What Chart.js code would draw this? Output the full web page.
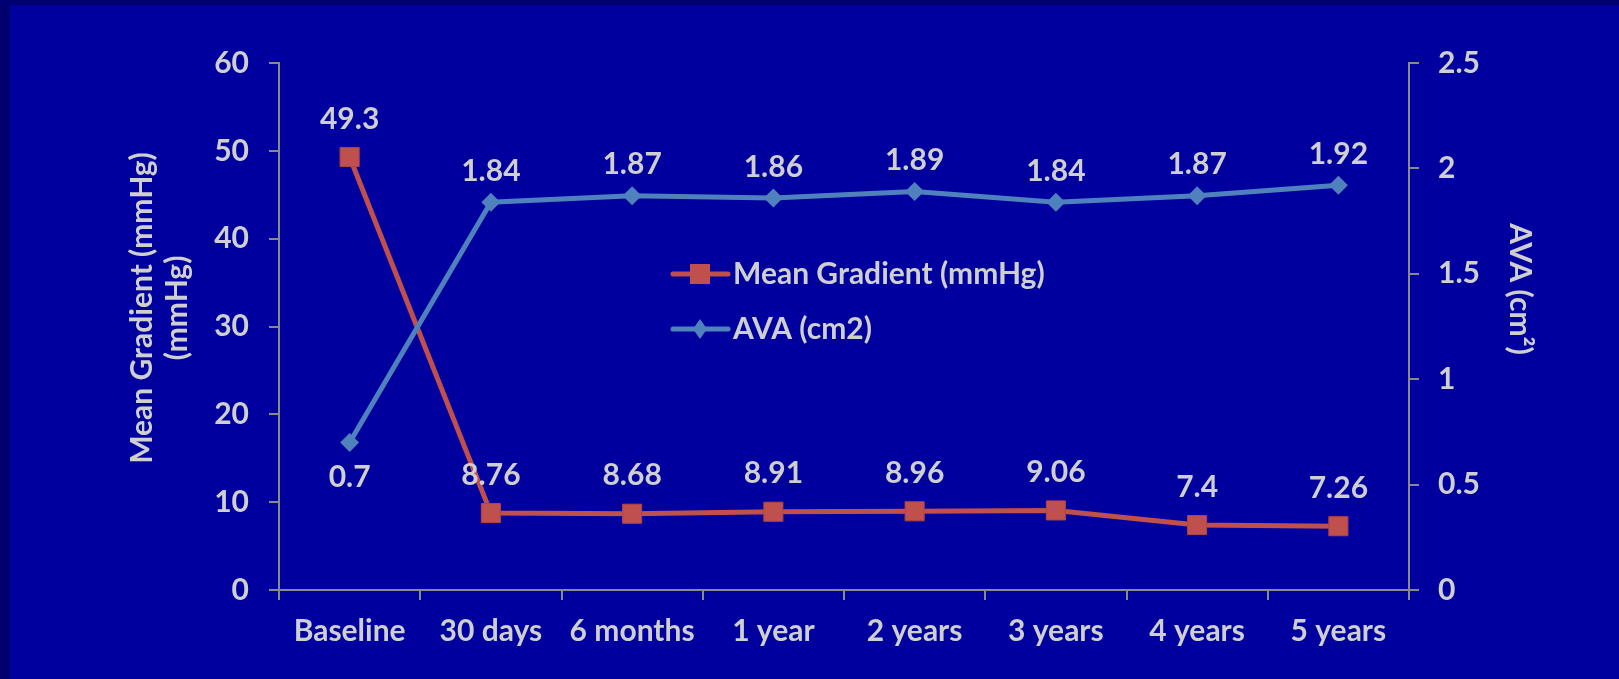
<!DOCTYPE html>
<html>
<head>
<meta charset="utf-8">
<script src="https://cdn.jsdelivr.net/npm/chart.js@4.4.1/dist/chart.umd.min.js"></script>
<style>
  html, body { margin: 0; padding: 0; background: #00009E; }
  canvas { display: block; }
</style>
</head>
<body>
<canvas id="c" width="1619" height="679"></canvas>
<script>
const categories = ['Baseline', '30 days', '6 months', '1 year', '2 years', '3 years', '4 years', '5 years'];
const meanGradient = [49.3, 8.76, 8.68, 8.91, 8.96, 9.06, 7.4, 7.26];
const ava = [0.7, 1.84, 1.87, 1.86, 1.89, 1.84, 1.87, 1.92];
const leftTicks = [0, 10, 20, 30, 40, 50, 60];
const rightTicks = [0, 0.5, 1, 1.5, 2, 2.5];
const seriesNames = ['Mean Gradient (mmHg)', 'AVA (cm2)'];
const leftTitle = ['Mean Gradient (mmHg)', '(mmHg)'];
const rightTitle = 'AVA (cm²)';

const TEXT = '#CFCFCF';
const AXIS = '#8A8A8A';
const RED = '#C0504D';
const BLUE = '#4F81BD';
const FONT = 'Lato, "Open Sans", sans-serif';
const FS = 30;

const decor = {
  id: 'decor',
  beforeDraw(chart) {
    const ctx = chart.ctx;
    ctx.save();
    ctx.fillStyle = '#000070';
    ctx.fillRect(0, 0, chart.width, chart.height);
    ctx.fillStyle = '#00009E';
    ctx.fillRect(10, 5, chart.width - 10, chart.height - 5);
    ctx.restore();
  },
  afterDraw(chart) {
    const ctx = chart.ctx;
    ctx.save();
    ctx.fillStyle = TEXT;
    ctx.font = 'bold ' + FS + 'px ' + FONT;
    ctx.textAlign = 'center';
    ctx.textBaseline = 'middle';
    const mRed = chart.getDatasetMeta(0).data;
    const mBlue = chart.getDatasetMeta(1).data;
    meanGradient.forEach((v, i) => {
      const p = mRed[i];
      ctx.fillText(String(v), p.x, p.y - 38);
    });
    ava.forEach((v, i) => {
      const p = mBlue[i];
      const below = p.y > mRed[i].y;
      ctx.fillText(String(v), p.x, below ? p.y + 35 : p.y - 31);
    });

    // legend
    const lx0 = 673, lx1 = 728, tx = 733;
    const rows = [274, 329];
    ctx.strokeStyle = RED; ctx.lineWidth = 5; ctx.lineCap = 'round';
    ctx.beginPath(); ctx.moveTo(lx0, rows[0]); ctx.lineTo(lx1, rows[0]); ctx.stroke();
    ctx.fillStyle = RED; ctx.fillRect(700 - 10, rows[0] - 10, 20, 20);
    ctx.strokeStyle = BLUE;
    ctx.beginPath(); ctx.moveTo(lx0, rows[1]); ctx.lineTo(lx1, rows[1]); ctx.stroke();
    ctx.fillStyle = BLUE;
    ctx.beginPath();
    ctx.moveTo(700, rows[1] - 10); ctx.lineTo(707, rows[1]); ctx.lineTo(700, rows[1] + 10); ctx.lineTo(693, rows[1]);
    ctx.closePath(); ctx.fill();
    ctx.fillStyle = TEXT;
    ctx.textAlign = 'left';
    ctx.fillText(seriesNames[0], tx, rows[0]);
    ctx.fillText(seriesNames[1], tx, rows[1]);

    // axis titles
    ctx.textAlign = 'center';
    ctx.save();
    ctx.translate(142, 308);
    ctx.rotate(-Math.PI / 2);
    ctx.fillText(leftTitle[0], 0, 0);
    ctx.restore();
    ctx.save();
    ctx.translate(177, 308);
    ctx.rotate(-Math.PI / 2);
    ctx.fillText(leftTitle[1], 0, 0);
    ctx.restore();
    ctx.save();
    ctx.translate(1520, 289);
    ctx.rotate(Math.PI / 2);
    ctx.fillText(rightTitle, 0, 0);
    ctx.restore();
    ctx.restore();
  }
};

new Chart(document.getElementById('c'), {
  type: 'line',
  data: {
    labels: categories,
    datasets: [
      {
        label: seriesNames[0],
        data: meanGradient,
        yAxisID: 'y',
        borderColor: RED,
        backgroundColor: RED,
        borderWidth: 5,
        pointStyle: 'rect',
        pointRadius: 13.5,
        pointBorderWidth: 1,
        pointBorderColor: '#B24542',
        pointBackgroundColor: RED,
        tension: 0,
        order: 1
      },
      {
        label: seriesNames[1],
        data: ava,
        yAxisID: 'y1',
        borderColor: BLUE,
        backgroundColor: BLUE,
        borderWidth: 5,
        pointStyle: 'rectRot',
        pointRadius: 9.5,
        pointBorderWidth: 0,
        pointBackgroundColor: BLUE,
        tension: 0,
        order: 0
      }
    ]
  },
  options: {
    responsive: false,
    animation: false,
    layout: { padding: { top: 63, left: 0, right: 0, bottom: 0 } },
    plugins: { legend: { display: false }, tooltip: { enabled: false } },
    scales: {
      x: {
        offset: true,
        grid: { display: true, drawOnChartArea: false, drawTicks: true, tickLength: 10, offset: true, color: AXIS, lineWidth: 2 },
        border: { display: true, color: AXIS, width: 2 },
        ticks: { color: TEXT, font: { family: FONT, size: FS, weight: 'bold' }, padding: 13, maxRotation: 0, autoSkip: false },
        afterFit(s) { s.height = 89; }
      },
      y: {
        position: 'left',
        min: 0, max: 60,
        afterBuildTicks(s) { s.ticks = leftTicks.map(v => ({ value: v })); },
        grid: { display: true, drawOnChartArea: false, drawTicks: true, tickLength: 10, color: AXIS, lineWidth: 2 },
        border: { display: true, color: AXIS, width: 2 },
        ticks: { color: TEXT, font: { family: FONT, size: FS, weight: 'bold' }, padding: 20 },
        afterFit(s) { s.width = 279; }
      },
      y1: {
        position: 'right',
        min: 0, max: 2.5,
        afterBuildTicks(s) { s.ticks = rightTicks.map(v => ({ value: v })); },
        grid: { display: true, drawOnChartArea: false, drawTicks: true, tickLength: 10, color: AXIS, lineWidth: 2 },
        border: { display: true, color: AXIS, width: 2 },
        ticks: { color: TEXT, font: { family: FONT, size: FS, weight: 'bold' }, padding: 19, callback: v => String(v) },
        afterFit(s) { s.width = 210; }
      }
    }
  },
  plugins: [decor]
});
</script>
</body>
</html>
